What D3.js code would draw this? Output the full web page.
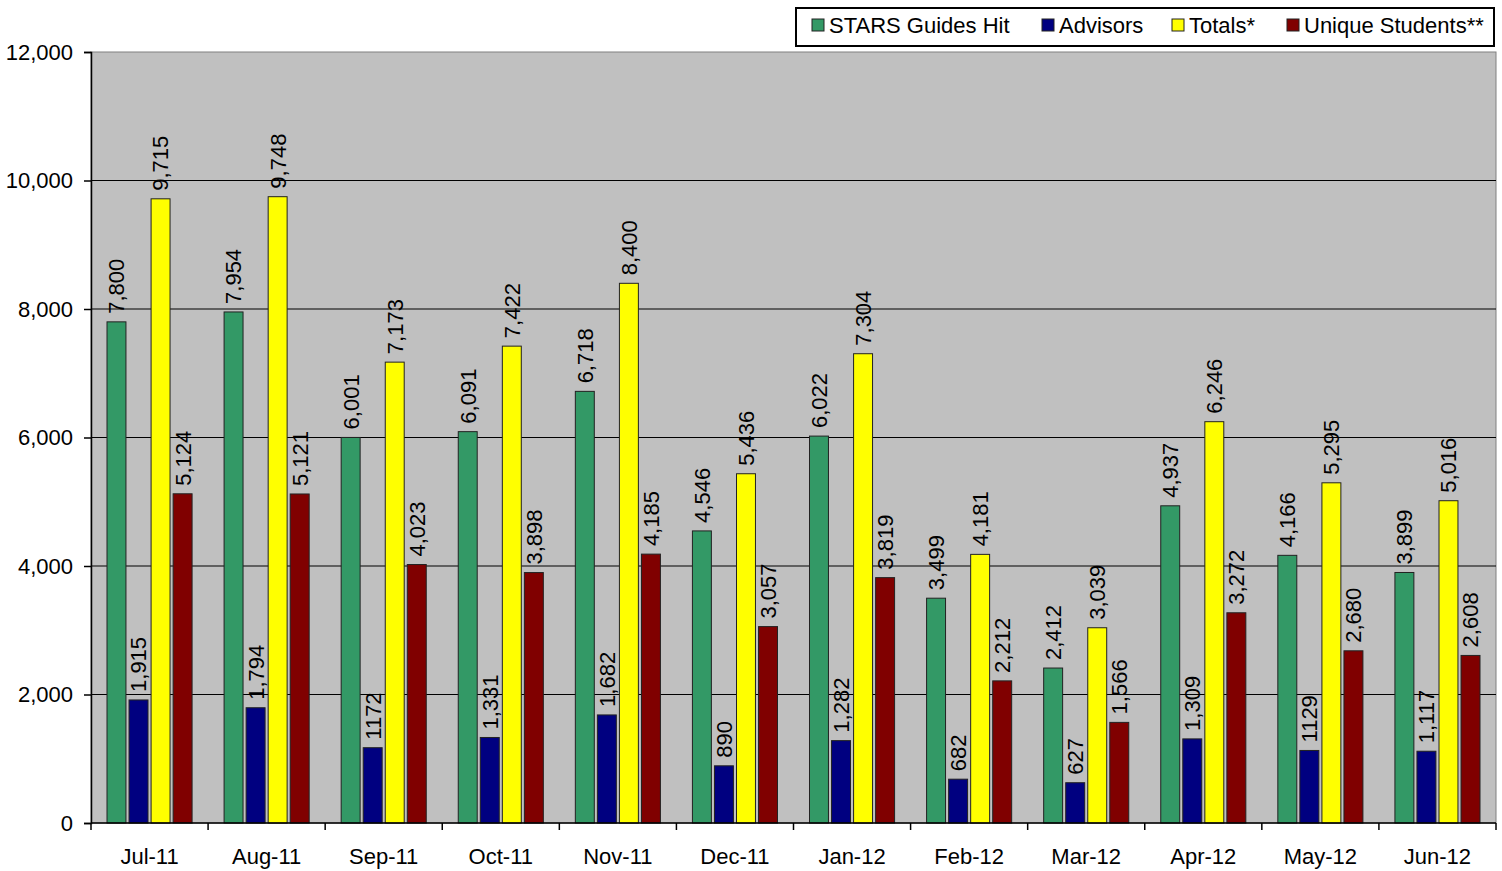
<!DOCTYPE html>
<html>
<head>
<meta charset="utf-8">
<script src="https://cdn.jsdelivr.net/npm/d3@7"></script>
<style>
  body { margin: 0; background: #fff; }
  text { font-family: "Liberation Sans", Arial, sans-serif; fill: #000; }
</style>
</head>
<body>
<svg id="chart" width="1502" height="871"></svg>
<script>
// data
const months = ["Jul-11", "Aug-11", "Sep-11", "Oct-11", "Nov-11", "Dec-11",
                "Jan-12", "Feb-12", "Mar-12", "Apr-12", "May-12", "Jun-12"];
const starsGuides = [7800, 7954, 6001, 6091, 6718, 4546, 6022, 3499, 2412, 4937, 4166, 3899];
const advisors = [1915, 1794, 1172, 1331, 1682, 890, 1282, 682, 627, 1309, 1129, 1117];
const totals = [9715, 9748, 7173, 7422, 8400, 5436, 7304, 4181, 3039, 6246, 5295, 5016];
const uniqueStudents = [5124, 5121, 4023, 3898, 4185, 3057, 3819, 2212, 1566, 3272, 2680, 2608];
// two advisor labels are printed without a thousands separator
const plainLabels = [1172, 1129];
const yTicks = [0, 2000, 4000, 6000, 8000, 10000, 12000];

const seriesNames = ["STARS Guides Hit", "Advisors", "Totals*", "Unique Students**"];
const seriesColors = ["#339966", "#000080", "#FFFF00", "#800000"];
const seriesValues = [starsGuides, advisors, totals, uniqueStudents];

const svg = d3.select("#chart");
const plotLeft = 91, plotRight = 1496, plotTop = 52, plotBottom = 823;

let x = d3.scaleBand().domain(months).range([plotLeft, plotRight]);
let xInner = d3.scaleBand().domain(d3.range(4)).range([16, x.bandwidth() - 16]).paddingInner(0.14);
let y = d3.scaleLinear().domain([0, 12000]).range([plotBottom, plotTop]);

// plot background
svg.append("rect")
   .attr("x", plotLeft).attr("y", plotTop)
   .attr("width", plotRight - plotLeft).attr("height", plotBottom - plotTop)
   .attr("fill", "#C0C0C0")
   .attr("stroke", "#808080");

// gridlines
svg.append("g")
   .selectAll("line")
   .data(yTicks.slice(1, -1))
   .enter()
   .append("line")
   .attr("x1", plotLeft).attr("x2", plotRight)
   .attr("y1", d => y(d)).attr("y2", d => y(d))
   .attr("stroke", "#000").attr("stroke-width", 1);

// bars
let rows = months.map((m, i) => seriesValues.map((s, k) => ({month: m, k: k, value: s[i]})));
let groups = svg.append("g")
   .selectAll("g")
   .data(rows)
   .enter()
   .append("g")
   .attr("transform", (d, i) => "translate(" + x(months[i]) + ",0)");

groups.selectAll("rect")
   .data(d => d)
   .enter()
   .append("rect")
   .attr("x", d => xInner(d.k))
   .attr("width", xInner.bandwidth())
   .attr("y", d => y(d.value))
   .attr("height", d => plotBottom - y(d.value))
   .attr("fill", d => seriesColors[d.k])
   .attr("stroke", "#222")
   .attr("stroke-width", 1);

let fmt = d3.format(",");
groups.selectAll("text")
   .data(d => d)
   .enter()
   .append("text")
   .attr("transform", d => "translate(" + (xInner(d.k) + xInner.bandwidth() / 2) + "," + (y(d.value) - 8) + ") rotate(-90)")
   .attr("dy", "0.36em")
   .style("font-size", "22px")
   .text(d => (d.k === 1 && plainLabels.includes(d.value)) ? String(d.value) : fmt(d.value));

// axes
let yAxis = svg.append("g")
   .attr("transform", "translate(" + plotLeft + ",0)")
   .call(d3.axisLeft(y).tickValues(yTicks).tickFormat(fmt).tickSize(7).tickPadding(11));
yAxis.select(".domain").attr("stroke", "#000").attr("stroke-width", 1.5);
yAxis.selectAll(".tick line").attr("stroke-width", 1.5);
yAxis.selectAll("text").style("font-size", "22px").style("font-family", "Liberation Sans, Arial, sans-serif");

let xAxis = svg.append("g")
   .attr("transform", "translate(0," + plotBottom + ")");
xAxis.append("line")
   .attr("x1", plotLeft).attr("x2", plotRight)
   .attr("stroke", "#000").attr("stroke-width", 1.5);
xAxis.selectAll("line.tick")
   .data(months.concat(["end"]))
   .enter()
   .append("line")
   .attr("class", "tick")
   .attr("x1", (d, i) => i < months.length ? x(d) : plotRight)
   .attr("x2", (d, i) => i < months.length ? x(d) : plotRight)
   .attr("y1", 0).attr("y2", 7)
   .attr("stroke", "#000").attr("stroke-width", 1.5);
xAxis.selectAll("text")
   .data(months)
   .enter()
   .append("text")
   .attr("x", d => x(d) + x.bandwidth() / 2)
   .attr("y", 41)
   .attr("text-anchor", "middle")
   .style("font-size", "22px")
   .text(d => d);

// legend
let legend = svg.append("g");
legend.append("rect")
   .attr("x", 796).attr("y", 8)
   .attr("width", 698).attr("height", 38)
   .attr("fill", "#fff")
   .attr("stroke", "#000").attr("stroke-width", 2);
const legendX = [812, 1042, 1172, 1287];
let items = legend.selectAll("g.item")
   .data(seriesNames)
   .enter()
   .append("g")
   .attr("class", "item")
   .attr("transform", (d, i) => "translate(" + legendX[i] + ",0)");
items.append("rect")
   .attr("x", 0).attr("y", 19)
   .attr("width", 12).attr("height", 12)
   .attr("fill", (d, i) => seriesColors[i])
   .attr("stroke", "#222");
items.append("text")
   .attr("x", 17).attr("y", 33)
   .style("font-size", "22px")
   .text(d => d);
</script>
</body>
</html>
